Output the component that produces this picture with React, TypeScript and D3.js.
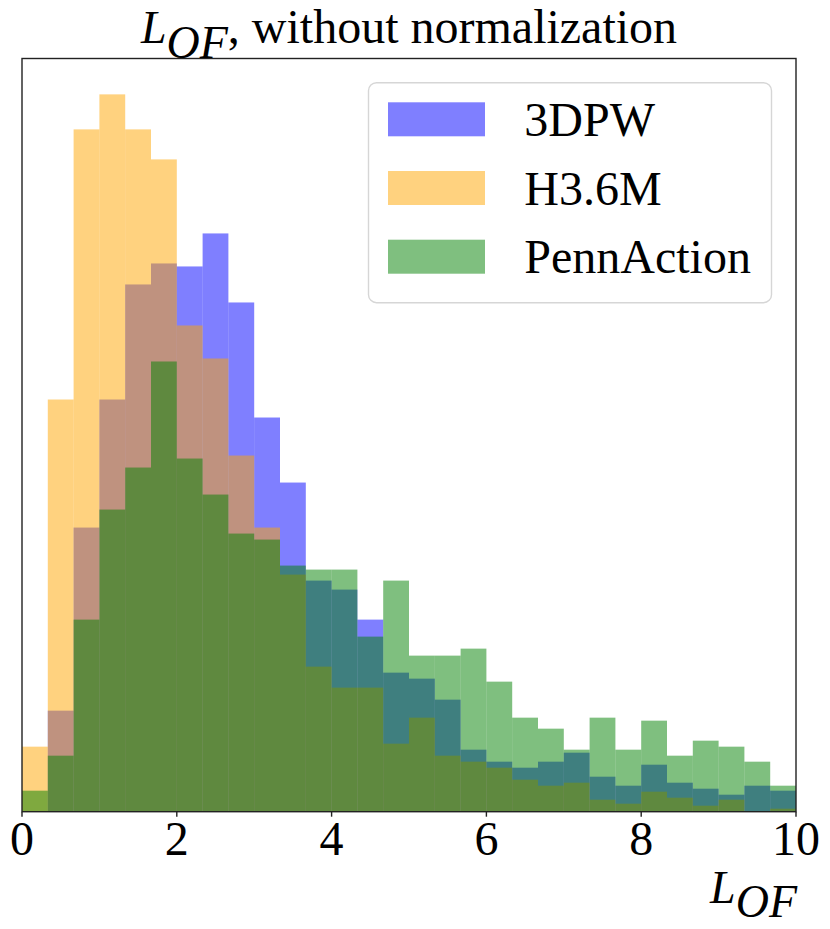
import React, { useEffect, useRef } from "react";
import * as d3 from "d3";

// Histogram bin edges: 30 bins of width 1/3 over [0, 10]
const binCount = 30;
const xMin = 0;
const xMax = 10;

const seriesNames = ["3DPW", "H3.6M", "PennAction"];
const seriesColors = ["#0000ff", "#ffa500", "#008000"];

// counts per bin (arbitrary units)
const dpw3 = [0, 101, 284, 412, 527, 548, 545, 578, 509, 394, 329, 231, 222, 192, 139, 133, 112, 62, 50, 44, 50, 59, 35, 26, 47, 29, 23, 17, 26, 21];
const h36m = [65, 412, 682, 717, 682, 652, 486, 453, 356, 284, 237, 145, 124, 124, 68, 94, 56, 50, 44, 32, 26, 29, 12, 8, 20, 14, 6, 12, 0, 3];
const penn = [21, 56, 192, 302, 344, 450, 353, 317, 278, 272, 246, 242, 242, 175, 231, 156, 156, 163, 130, 94, 83, 62, 94, 62, 91, 56, 71, 65, 50, 26];

const xTicks = [0, 2, 4, 6, 8, 10];

const W = 830;
const H = 929;
const margin = { left: 22, right: 796, top: 58.5, bottom: 811.7 };

export default function App() {
  const ref = useRef<SVGSVGElement>(null);

  useEffect(() => {
    document.body.style.margin = "0";
    const svg = d3.select(ref.current);
    svg.selectAll("*").remove();

    const font = "'Liberation Serif', 'Times New Roman', serif";
    const fs = 48;
    const mfs = 46;

    const x = d3.scaleLinear().domain([xMin, xMax]).range([margin.left, margin.right]);
    const allMax = d3.max([...dpw3, ...h36m, ...penn]) as number;
    const y = d3.scaleLinear().domain([0, allMax * 1.05]).range([margin.bottom, margin.top]);

    const binW = (xMax - xMin) / binCount;
    const series = [dpw3, h36m, penn];

    series.forEach((vals, si) => {
      svg
        .append("g")
        .selectAll("rect")
        .data(vals)
        .join("rect")
        .attr("x", (_d, i) => x(xMin + i * binW))
        .attr("width", (_d, i) => x(xMin + (i + 1) * binW) - x(xMin + i * binW))
        .attr("y", (d) => y(d))
        .attr("height", (d) => y(0) - y(d))
        .attr("fill", seriesColors[si])
        .attr("fill-opacity", 0.5);
    });

    // frame
    svg
      .append("rect")
      .attr("x", margin.left)
      .attr("y", margin.top)
      .attr("width", margin.right - margin.left)
      .attr("height", margin.bottom - margin.top)
      .attr("fill", "none")
      .attr("stroke", "#222")
      .attr("stroke-width", 1.4);

    // x axis ticks
    const tg = svg.append("g");
    xTicks.forEach((t) => {
      tg.append("line")
        .attr("x1", x(t))
        .attr("x2", x(t))
        .attr("y1", margin.bottom)
        .attr("y2", margin.bottom + 5)
        .attr("stroke", "#222")
        .attr("stroke-width", 1.4);
      tg.append("text")
        .attr("x", x(t))
        .attr("y", 855)
        .attr("text-anchor", "middle")
        .attr("font-family", font)
        .attr("font-size", fs)
        .attr("fill", "#000")
        .text(String(t));
    });

    // title
    const title = svg
      .append("text")
      .attr("x", (margin.left + margin.right) / 2)
      .attr("y", 42.7)
      .attr("text-anchor", "middle")
      .attr("font-family", font)
      .attr("font-size", fs)
      .attr("fill", "#000");
    title.append("tspan").attr("font-style", "italic").attr("font-size", mfs).text("L");
    title
      .append("tspan")
      .attr("font-style", "italic")
      .attr("font-size", mfs)
      .attr("dy", 15)
      .text("OF");
    title.append("tspan").attr("dy", -15).text(", without normalization");

    // x label
    const xl = svg
      .append("text")
      .attr("x", margin.right + 1)
      .attr("y", 902.5)
      .attr("text-anchor", "end")
      .attr("font-family", font)
      .attr("font-size", mfs)
      .attr("fill", "#000");
    xl.append("tspan").attr("font-style", "italic").text("L");
    xl.append("tspan")
      .attr("font-style", "italic")
      .attr("dy", 14)
      .text("OF");

    // legend
    const lg = svg.append("g");
    lg.append("rect")
      .attr("x", 368.5)
      .attr("y", 82.7)
      .attr("width", 403)
      .attr("height", 220)
      .attr("rx", 8)
      .attr("fill", "#fff")
      .attr("fill-opacity", 0.8)
      .attr("stroke", "#d6d6d6")
      .attr("stroke-width", 1.4);
    seriesNames.forEach((name, i) => {
      const top = 102.3 + i * 68.7;
      lg.append("rect")
        .attr("x", 388)
        .attr("y", top)
        .attr("width", 97)
        .attr("height", 34)
        .attr("fill", seriesColors[i])
        .attr("fill-opacity", 0.5);
      lg.append("text")
        .attr("x", 524.3)
        .attr("y", top + 33.5)
        .attr("font-family", font)
        .attr("font-size", fs)
        .attr("fill", "#000")
        .text(name);
    });
  }, []);

  return <svg ref={ref} width={W} height={H} style={{ display: "block" }} />;
}
